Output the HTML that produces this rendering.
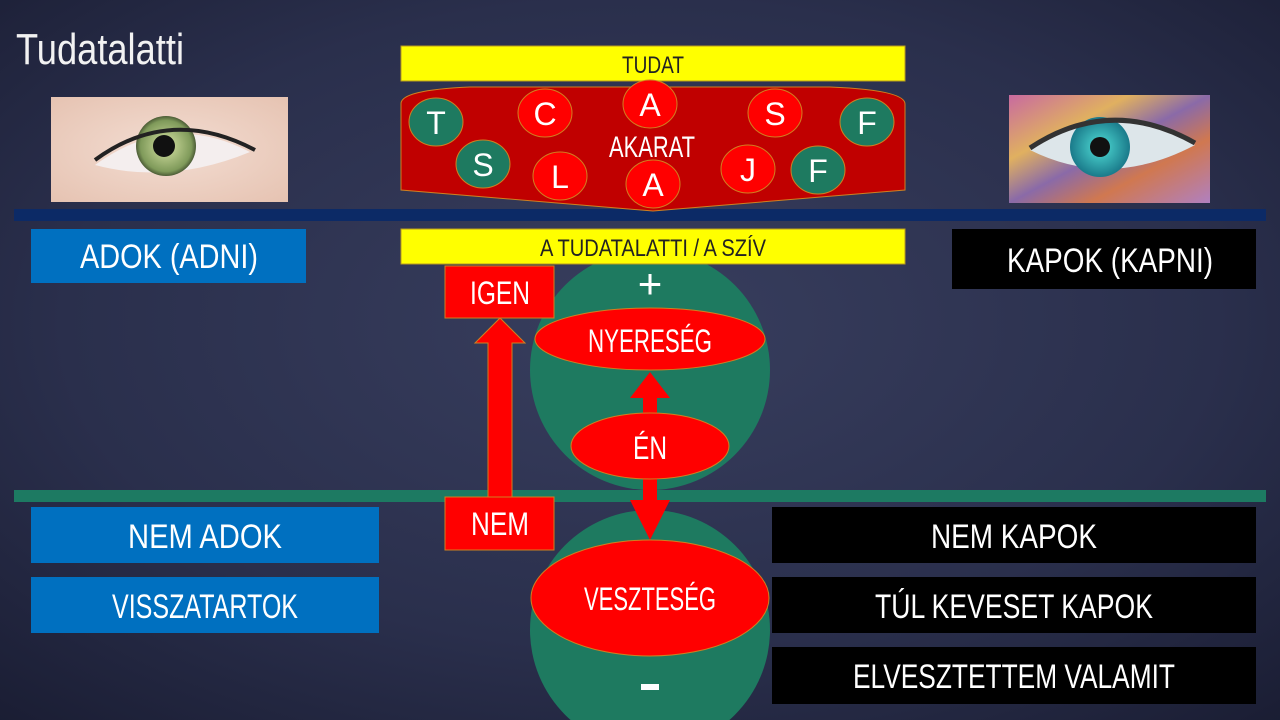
<!DOCTYPE html>
<html><head><meta charset="utf-8"><style>
html,body{margin:0;padding:0;width:1280px;height:720px;overflow:hidden;background:#262b45}
svg{display:block}
text{font-family:"Liberation Sans Narrow","Liberation Sans",sans-serif;}
</style></head><body>
<svg width="1280" height="720" viewBox="0 0 1280 720" xmlns="http://www.w3.org/2000/svg">
<defs>
<radialGradient id="bg" cx="50%" cy="45%" r="75%">
<stop offset="0" stop-color="#383e5e"/><stop offset="0.6" stop-color="#2a2f4c"/><stop offset="1" stop-color="#1a1d33"/>
</radialGradient>
<radialGradient id="skin" cx="50%" cy="50%" r="70%"><stop offset="0" stop-color="#f3ddd2"/><stop offset="1" stop-color="#e6c3b2"/></radialGradient>
<radialGradient id="iris1" cx="50%" cy="50%" r="50%"><stop offset="0.3" stop-color="#b8c98a"/><stop offset="0.85" stop-color="#7f9a5a"/><stop offset="1" stop-color="#4c5c36"/></radialGradient>
<linearGradient id="rainbow" x1="0" y1="0" x2="1" y2="1"><stop offset="0" stop-color="#c86aa0"/><stop offset="0.3" stop-color="#e0b060"/><stop offset="0.5" stop-color="#8a6aa8"/><stop offset="0.7" stop-color="#d07850"/><stop offset="1" stop-color="#b080c0"/></linearGradient>
<radialGradient id="iris2" cx="50%" cy="50%" r="50%"><stop offset="0.3" stop-color="#40c0c0"/><stop offset="1" stop-color="#1a7a8a"/></radialGradient>
</defs>
<rect width="1280" height="720" fill="url(#bg)"/>
<text x="16" y="64" font-size="44" fill="#f2f2f2" textLength="168" lengthAdjust="spacingAndGlyphs">Tudatalatti</text>

<!-- left eye -->
<rect x="51" y="97" width="237" height="105" fill="url(#skin)"/>
<path d="M95 165 Q170 110 250 152 Q170 185 95 165Z" fill="#f4eeee"/>
<circle cx="166" cy="146" r="30" fill="url(#iris1)"/>
<circle cx="164" cy="146" r="11" fill="#111"/>
<path d="M95 160 Q170 105 255 150" stroke="#222" stroke-width="4" fill="none"/>
<!-- right eye -->
<rect x="1009" y="95" width="201" height="108" fill="url(#rainbow)"/>
<path d="M1030 150 Q1110 95 1195 145 Q1110 190 1030 150Z" fill="#dde6ea"/>
<circle cx="1100" cy="147" r="30" fill="url(#iris2)"/>
<circle cx="1100" cy="147" r="10" fill="#111"/>
<path d="M1030 148 Q1110 95 1195 143" stroke="#333" stroke-width="5" fill="none"/>

<rect x="14" y="209" width="1252" height="12" fill="#0c2a66"/>
<rect x="14" y="490" width="1252" height="12" fill="#1d7a62"/>

<circle cx="650" cy="370" r="120" fill="#1e7a60"/>
<circle cx="650" cy="630" r="120" fill="#1e7a60"/>

<rect x="401" y="46" width="504" height="35" fill="#ffff00" stroke="#b89a20"/>
<text x="653" y="73" font-size="24" fill="#222" text-anchor="middle" textLength="62" lengthAdjust="spacingAndGlyphs">TUDAT</text>

<path d="M401 104 Q400 90 470 87 L830 87 Q905 90 905 104 L905 190 L653 211 L401 190 Z" fill="#c00000" stroke="#d08020"/>
<g stroke="#d08020" stroke-width="1">
<ellipse cx="436" cy="122" rx="27" ry="24" fill="#1e7a60"/>
<ellipse cx="545" cy="113" rx="27" ry="24" fill="#ff0000"/>
<ellipse cx="650" cy="104" rx="27" ry="24" fill="#ff0000"/>
<ellipse cx="775" cy="113" rx="27" ry="24" fill="#ff0000"/>
<ellipse cx="867" cy="122" rx="27" ry="24" fill="#1e7a60"/>
<ellipse cx="483" cy="164" rx="27" ry="24" fill="#1e7a60"/>
<ellipse cx="560" cy="176" rx="27" ry="24" fill="#ff0000"/>
<ellipse cx="653" cy="184" rx="27" ry="24" fill="#ff0000"/>
<ellipse cx="748" cy="169" rx="27" ry="24" fill="#ff0000"/>
<ellipse cx="818" cy="170" rx="27" ry="24" fill="#1e7a60"/>
</g>
<g fill="#fff" font-size="32" text-anchor="middle">
<text x="436" y="134">T</text><text x="545" y="125">C</text><text x="650" y="116">A</text>
<text x="775" y="125">S</text><text x="867" y="134">F</text><text x="483" y="176">S</text>
<text x="560" y="188">L</text><text x="653" y="196">A</text><text x="748" y="181">J</text><text x="818" y="182">F</text>
</g>
<text x="652" y="157" font-size="30" fill="#fff" text-anchor="middle" textLength="86" lengthAdjust="spacingAndGlyphs">AKARAT</text>

<rect x="401" y="229" width="504" height="35" fill="#ffff00" stroke="#b89a20"/>
<text x="653" y="256" font-size="24" fill="#222" text-anchor="middle" textLength="226" lengthAdjust="spacingAndGlyphs">A TUDATALATTI / A SZÍV</text>

<rect x="31" y="229" width="275" height="54" fill="#0070c0"/>
<text x="169" y="268" font-size="34" fill="#fff" text-anchor="middle" textLength="178" lengthAdjust="spacingAndGlyphs">ADOK (ADNI)</text>
<rect x="952" y="229" width="304" height="60" fill="#000"/>
<text x="1110" y="272" font-size="34" fill="#fff" text-anchor="middle" textLength="206" lengthAdjust="spacingAndGlyphs">KAPOK (KAPNI)</text>

<text x="650" y="298" font-size="42" fill="#fff" text-anchor="middle">+</text>
<ellipse cx="650" cy="339" rx="115" ry="31" fill="#ff0000" stroke="#d08020"/>
<text x="650" y="352" font-size="32" fill="#fff" text-anchor="middle" textLength="124" lengthAdjust="spacingAndGlyphs">NYERESÉG</text>

<path d="M643 420 L643 398 L630 398 L650 372 L670 398 L657 398 L657 420Z" fill="#ff0000"/>
<path d="M643 470 L657 470 L657 500 L670 500 L650 540 L630 500 L643 500Z" fill="#ff0000"/>

<ellipse cx="650" cy="446" rx="79" ry="33" fill="#ff0000" stroke="#d08020"/>
<text x="650" y="459" font-size="32" fill="#fff" text-anchor="middle" textLength="34" lengthAdjust="spacingAndGlyphs">ÉN</text>

<ellipse cx="650" cy="598" rx="119" ry="58" fill="#ff0000" stroke="#d08020"/>
<text x="650" y="610" font-size="32" fill="#fff" text-anchor="middle" textLength="132" lengthAdjust="spacingAndGlyphs">VESZTESÉG</text>
<rect x="641" y="684" width="18" height="6" fill="#fff"/>

<path d="M488 500 L488 343 L475 343 L500 318 L525 343 L512 343 L512 500Z" fill="#ff0000" stroke="#d08020"/>
<rect x="445" y="266" width="109" height="52" fill="#ff0000" stroke="#d08020"/>
<text x="500" y="304" font-size="32" fill="#fff" text-anchor="middle" textLength="60" lengthAdjust="spacingAndGlyphs">IGEN</text>
<rect x="445" y="497" width="109" height="53" fill="#ff0000" stroke="#d08020"/>
<text x="500" y="535" font-size="32" fill="#fff" text-anchor="middle" textLength="58" lengthAdjust="spacingAndGlyphs">NEM</text>

<rect x="31" y="507" width="348" height="56" fill="#0070c0"/>
<text x="205" y="548" font-size="34" fill="#fff" text-anchor="middle" textLength="154" lengthAdjust="spacingAndGlyphs">NEM ADOK</text>
<rect x="31" y="577" width="348" height="56" fill="#0070c0"/>
<text x="205" y="618" font-size="34" fill="#fff" text-anchor="middle" textLength="186" lengthAdjust="spacingAndGlyphs">VISSZATARTOK</text>

<rect x="772" y="507" width="484" height="56" fill="#000"/>
<text x="1014" y="548" font-size="34" fill="#fff" text-anchor="middle" textLength="166" lengthAdjust="spacingAndGlyphs">NEM KAPOK</text>
<rect x="772" y="577" width="484" height="56" fill="#000"/>
<text x="1014" y="618" font-size="34" fill="#fff" text-anchor="middle" textLength="278" lengthAdjust="spacingAndGlyphs">TÚL KEVESET KAPOK</text>
<rect x="772" y="647" width="484" height="57" fill="#000"/>
<text x="1014" y="688" font-size="34" fill="#fff" text-anchor="middle" textLength="322" lengthAdjust="spacingAndGlyphs">ELVESZTETTEM VALAMIT</text>
</svg>
</body></html>
